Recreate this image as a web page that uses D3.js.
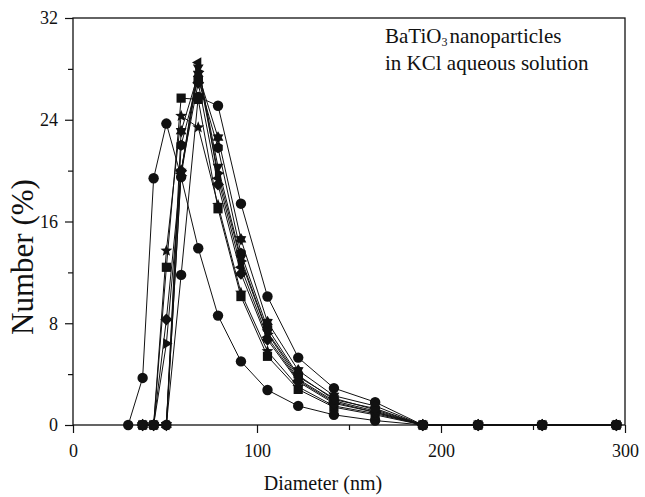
<!DOCTYPE html>
<html>
<head>
<meta charset="utf-8">
<script src="https://cdn.jsdelivr.net/npm/d3@7"></script>
<style>
  body { margin: 0; background: #fff; }
  svg text { font-family: "Liberation Serif", "Times New Roman", serif; fill: #111; }
</style>
</head>
<body>
<div class="chart"></div>
<script>
// size bins (nm) - the left curve starts one bin lower
const bins = [37.84, 43.82, 50.75, 58.77, 68.06, 78.82, 91.28, 105.7, 122.4, 141.8, 164.2, 190.1, 220.2, 255.0, 295.3]
const binsLeft = [30.0, 37.84, 43.82, 50.75, 58.77, 68.06, 78.82, 91.28, 105.7, 122.4, 141.8, 164.2, 190.1, 220.2, 255.0, 295.3]

// number (%) per bin, one array per measurement
const circleLeft = [0, 3.7, 19.4, 23.7, 19.5, 13.9, 8.6, 5.0, 2.75, 1.5, 0.8, 0.35, 0, 0, 0, 0]
const circleRight = [0, 0, 0, 11.8, 25.8, 25.1, 17.4, 10.1, 5.3, 2.9, 1.8, 0, 0, 0, 0]
const squares = [0, 0, 12.4, 25.7, 25.6, 17.0, 10.1, 5.4, 2.8, 1.4, 0.8, 0, 0, 0, 0]
const stars = [0, 0, 13.7, 24.3, 23.4, 17.3, 10.4, 5.8, 3.0, 1.5, 0.9, 0, 0, 0, 0]
const triLeft = [0, 0, 0, 19.8, 28.5, 19.4, 12.4, 6.9, 3.5, 1.8, 1.0, 0, 0, 0, 0]
const triRight = [0, 0, 6.4, 19.6, 27.8, 19.8, 12.9, 7.2, 3.6, 1.9, 1.1, 0, 0, 0, 0]
const diamonds = [0, 0, 8.3, 20.0, 26.9, 18.9, 11.9, 6.7, 3.4, 1.7, 1.0, 0, 0, 0, 0]
const hexagons = [0, 0, 0, 22.0, 27.2, 21.8, 13.5, 7.6, 3.9, 2.0, 1.3, 0, 0, 0, 0]
const hexagrams = [0, 0, 0, 23.1, 27.6, 22.6, 14.6, 8.1, 4.3, 2.3, 1.5, 0, 0, 0, 0]
const triDown = [0, 0, 0, 19.9, 28.1, 20.3, 13.1, 7.3, 3.8, 2.1, 1.2, 0, 0, 0, 0]

const xTicks = [0, 100, 200, 300]
const xMinor = [50, 150, 250]
const yTicks = [0, 8, 16, 24, 32]
const yMinor = [4, 12, 20, 28]

const W = 645, H = 497
const margin = ({top: 18, right: 20, bottom: 72, left: 73})

const series = [
    {x: binsLeft, y: circleLeft, shape: 'circle'},
    {x: bins, y: circleRight, shape: 'circle'},
    {x: bins, y: squares, shape: 'square'},
    {x: bins, y: stars, shape: 'star'},
    {x: bins, y: triLeft, shape: 'triLeft'},
    {x: bins, y: triRight, shape: 'triRight'},
    {x: bins, y: diamonds, shape: 'diamond'},
    {x: bins, y: hexagons, shape: 'hexagon'},
    {x: bins, y: hexagrams, shape: 'hexagram'},
    {x: bins, y: triDown, shape: 'triDown'}
]

const x = d3.scaleLinear().domain([0, 300]).range([margin.left, W - margin.right])
const y = d3.scaleLinear().domain([0, 32]).range([H - margin.bottom, margin.top])

// polygon helper: n vertices, radius r, start angle a0 (degrees, 0 = right, counterclockwise up)
function poly(n, r, a0) {
    let pts = []
    for (let i = 0; i < n; i++) {
        let a = (a0 + i * 360 / n) * Math.PI / 180
        pts.push([r * Math.cos(a), -r * Math.sin(a)])
    }
    return 'M' + pts.map(p => p.join(',')).join('L') + 'Z'
}
function starPath(points, ro, ri) {
    let pts = []
    for (let i = 0; i < points * 2; i++) {
        let r = i % 2 ? ri : ro
        let a = (90 + i * 180 / points) * Math.PI / 180
        pts.push([r * Math.cos(a), -r * Math.sin(a)])
    }
    return 'M' + pts.map(p => p.join(',')).join('L') + 'Z'
}
const shapes = {
    circle: d3.symbol(d3.symbolCircle, 85)(),
    square: 'M-4.6,-4.6L4.6,-4.6L4.6,4.6L-4.6,4.6Z',
    star: starPath(5, 6.2, 2.7),
    triLeft: poly(3, 6.2, 180),
    triRight: poly(3, 6.2, 0),
    triDown: poly(3, 6.2, 270),
    diamond: poly(4, 6, 90),
    hexagon: poly(6, 5.5, 90),
    hexagram: starPath(6, 6.2, 3.7)
}

const svg = d3.select('.chart').append('svg')
    .attr('width', W)
    .attr('height', H)

// axes
const yAxis = d3.axisLeft(y).tickValues(yTicks).tickSize(8).tickPadding(7).tickFormat(d3.format('d'))
const yAxisMinor = d3.axisLeft(y).tickValues(yMinor).tickSize(5).tickFormat('')
const xAxis = d3.axisBottom(x).tickValues(xTicks).tickSize(8).tickPadding(11).tickFormat(d3.format('d'))
const xAxisMinor = d3.axisBottom(x).tickValues(xMinor).tickSize(5).tickFormat('')

svg.append('g').attr('transform', `translate(${margin.left},0)`).call(yAxis)
svg.append('g').attr('transform', `translate(${margin.left},0)`).call(yAxisMinor)
svg.append('g').attr('transform', `translate(0,${H - margin.bottom})`).call(xAxis)
svg.append('g').attr('transform', `translate(0,${H - margin.bottom})`).call(xAxisMinor)
svg.selectAll('.domain').remove()
svg.selectAll('.tick line').attr('stroke', '#111').attr('stroke-width', 1.2)
svg.selectAll('.tick text').attr('font-size', 18).attr('font-family', '"Liberation Serif", serif').attr('fill', '#111')

// frame
svg.append('rect')
    .attr('x', margin.left)
    .attr('y', margin.top)
    .attr('width', W - margin.left - margin.right)
    .attr('height', H - margin.top - margin.bottom)
    .attr('fill', 'none')
    .attr('stroke', '#111')
    .attr('stroke-width', 1.3)

const line = d3.line()
    .x(d => x(d[0]))
    .y(d => y(d[1]))

series.forEach(s => {
    const pts = s.x.map((v, i) => [v, s.y[i]])
    svg.append('path')
        .datum(pts)
        .attr('d', line)
        .attr('fill', 'none')
        .attr('stroke', '#111')
        .attr('stroke-width', 1)
    svg.append('g')
        .selectAll('path')
        .data(pts)
        .join('path')
        .attr('d', shapes[s.shape])
        .attr('transform', d => `translate(${x(d[0])},${y(d[1])})`)
        .attr('fill', '#111')
})

// axis titles
svg.append('text')
    .attr('x', 323)
    .attr('y', 490)
    .attr('text-anchor', 'middle')
    .attr('font-size', 20)
    .text('Diameter (nm)')

svg.append('text')
    .attr('transform', `translate(33,257) rotate(-90)`)
    .attr('text-anchor', 'middle')
    .attr('font-size', 31)
    .text('Number (%)')

// annotation
const note = svg.append('text')
    .attr('x', 385)
    .attr('y', 43)
    .attr('font-size', 21)
note.append('tspan').text('BaTiO')
note.append('tspan').attr('font-size', 12).attr('dy', 3).text('3')
note.append('tspan').attr('dy', -3).attr('dx', 2).text('nanoparticles')

svg.append('text')
    .attr('x', 385)
    .attr('y', 70)
    .attr('font-size', 21)
    .text('in KCl aqueous solution')
</script>
</body>
</html>
